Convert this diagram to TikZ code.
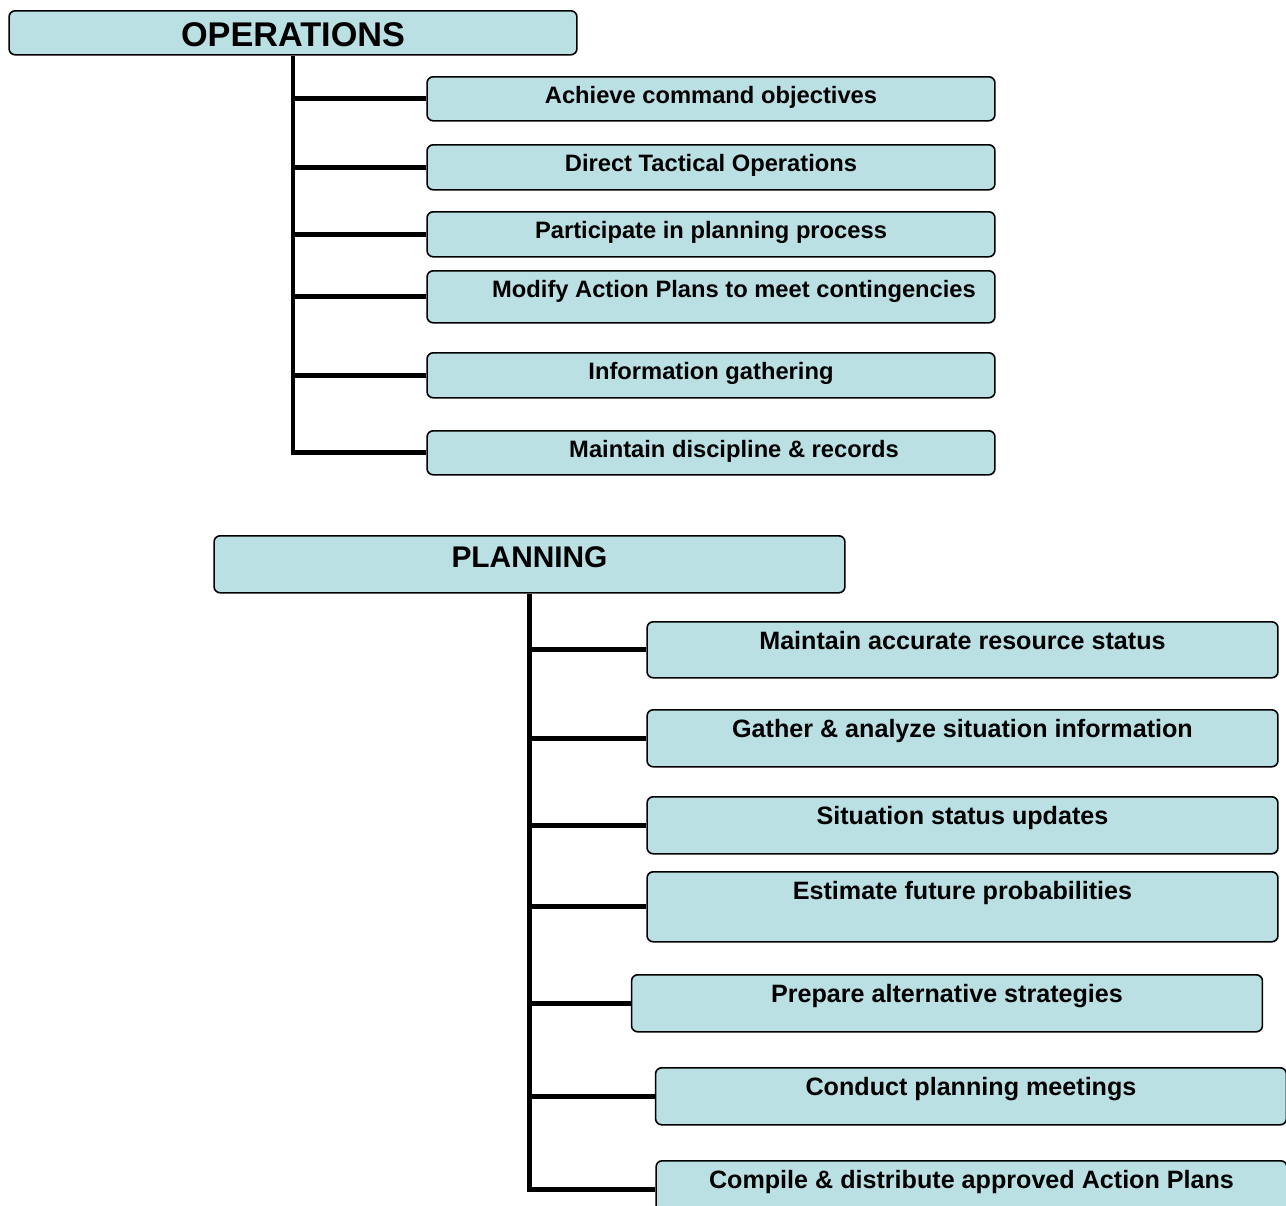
\documentclass[tikz,border=0pt]{standalone}
\usepackage{fontspec}
\setmainfont{Liberation Sans}
\definecolor{boxfill}{RGB}{186,224,227}

\begin{document}
\begin{tikzpicture}[
    x=0.02cm, y=-0.02cm,
    branch/.style={line width=2.8pt, line join=miter},
    box/.style={draw=black, line width=0.9pt, fill=boxfill, rounded corners=3.5pt, inner sep=0, anchor=north},
    headbox/.style={box, font=\bfseries\fontsize{#1}{#1}\selectfont},
    opsbox/.style={box, minimum width=11.36cm, text height=0.53cm, font=\bfseries\fontsize{13.5}{16}\selectfont},
    planbox/.style={box, minimum width=12.62cm, text height=0.56cm, font=\bfseries\fontsize{14.3}{17}\selectfont},
  ]
  \useasboundingbox (0,0) rectangle (1286,1205);
  \clip (0,0) rectangle (1286,1205);

  % operations section
  \node[headbox=19.5, minimum width=11.36cm, text height=0.71cm, text depth=0.17cm] (ops) at (293,10) {OPERATIONS};
  \node[opsbox, text depth=0.35cm] (o1) at (711,76) {Achieve command objectives};
  \node[opsbox, text depth=0.37cm] (o2) at (711,144) {Direct Tactical Operations};
  \node[opsbox, text depth=0.37cm] (o3) at (711,211) {Participate in planning process};
  \node[opsbox, text depth=0.51cm] (o4) at (711,270) {\hspace*{0.92cm}Modify Action Plans to meet contingencies};
  \node[opsbox, text depth=0.37cm] (o5) at (711,352) {Information gathering};
  \node[opsbox, text depth=0.35cm] (o6) at (711,430) {\hspace*{0.92cm}Maintain discipline \& records};

  \draw[branch] (ops.south) |- (o6.west);
  \foreach \i in {1,...,5}
    \draw[branch] (ops.south |- o\i.west) -- (o\i.west);

  % planning section
  \node[headbox=17, minimum width=12.62cm, text height=0.63cm, text depth=0.51cm] (plan) at (529.5,535) {PLANNING};
  \node[planbox, text depth=0.56cm] (p1) at (962.5,621) {Maintain accurate resource status};
  \node[planbox, text depth=0.58cm] (p2) at (962.5,709) {Gather \& analyze situation information};
  \node[planbox, text depth=0.58cm] (p3) at (962.5,796) {Situation status updates};
  \node[planbox, text depth=0.84cm] (p4) at (962.5,871) {Estimate future probabilities};
  \node[planbox, text depth=0.58cm] (p5) at (947,974) {Prepare alternative strategies};
  \node[planbox, text depth=0.58cm] (p6) at (971,1067) {Conduct planning meetings};
  \node[planbox, text depth=0.58cm] (p7) at (971.5,1160) {Compile \& distribute approved Action Plans};

  \draw[branch] (plan.south) |- (p7.west);
  \foreach \i in {1,...,6}
    \draw[branch] (plan.south |- p\i.west) -- (p\i.west);

\end{tikzpicture}
\end{document}
